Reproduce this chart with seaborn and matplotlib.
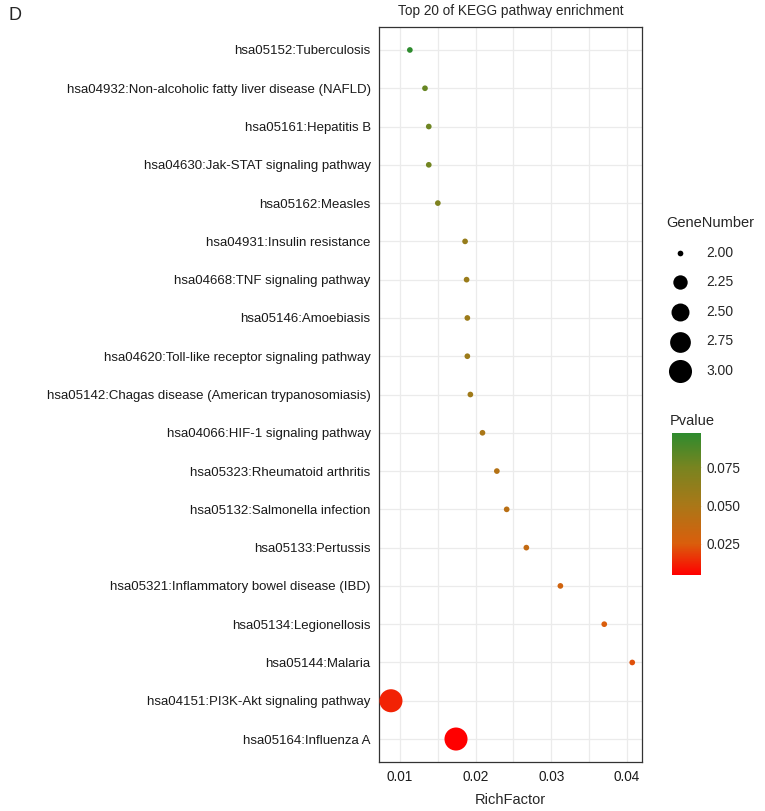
import numpy as np
import pandas as pd
import matplotlib
matplotlib.use("Agg")
import matplotlib.pyplot as plt
import seaborn as sns
from matplotlib.colors import LinearSegmentedColormap, Normalize
from matplotlib.cm import ScalarMappable

pathways = [
    "hsa05152:Tuberculosis",
    "hsa04932:Non-alcoholic fatty liver disease (NAFLD)",
    "hsa05161:Hepatitis B",
    "hsa04630:Jak-STAT signaling pathway",
    "hsa05162:Measles",
    "hsa04931:Insulin resistance",
    "hsa04668:TNF signaling pathway",
    "hsa05146:Amoebiasis",
    "hsa04620:Toll-like receptor signaling pathway",
    "hsa05142:Chagas disease (American trypanosomiasis)",
    "hsa04066:HIF-1 signaling pathway",
    "hsa05323:Rheumatoid arthritis",
    "hsa05132:Salmonella infection",
    "hsa05133:Pertussis",
    "hsa05321:Inflammatory bowel disease (IBD)",
    "hsa05134:Legionellosis",
    "hsa05144:Malaria",
    "hsa04151:PI3K-Akt signaling pathway",
    "hsa05164:Influenza A",
]
rich_factor = [0.0113, 0.0133, 0.0138, 0.0138, 0.0150, 0.0186, 0.0188, 0.0189,
               0.0189, 0.0193, 0.0209, 0.0228, 0.0241, 0.0267, 0.0312, 0.0370,
               0.0407, 0.0088, 0.0174]
pvalue = [0.0974, 0.080, 0.078, 0.077, 0.072, 0.060, 0.058, 0.057, 0.057,
          0.055, 0.050, 0.045, 0.042, 0.037, 0.030, 0.025, 0.022, 0.012, 0.0046]
gene_number = [2, 2, 2, 2, 2, 2, 2, 2, 2, 2, 2, 2, 2, 2, 2, 2, 2, 3, 3]

legend_sizes = [2.00, 2.25, 2.50, 2.75, 3.00]
cbar_ticks = [0.025, 0.050, 0.075]

df = pd.DataFrame({"Pathway": pathways, "RichFactor": rich_factor,
                   "Pvalue": pvalue, "GeneNumber": gene_number})

sns.set_style("white")
plt.rcParams["font.family"] = ["Liberation Sans", "DejaVu Sans"]

cmap = LinearSegmentedColormap.from_list(
    "pv", [(0.0, "#FF0000"), (0.22, "#DA5E0C"), (0.5, "#A87818"),
           (0.76, "#788420"), (1.0, "#2E8B2E")])
norm = Normalize(vmin=min(pvalue), vmax=max(pvalue))


def dot_size(g):
    # ggplot-like area scale: diameter grows with sqrt of rescaled value
    d_min, d_max = 4.1, 16.6
    d = d_min + (d_max - d_min) * np.sqrt((g - 2.0) / 1.0)
    return d ** 2


fig = plt.figure(figsize=(7.65, 8.11), dpi=100)
ax = fig.add_axes([379 / 765, 1 - 762 / 811, (642 - 379) / 765, (762 - 27) / 811])

sns.scatterplot(data=df, x="RichFactor", y="Pathway", hue="Pvalue",
                palette=cmap, hue_norm=norm, size="GeneNumber",
                sizes={2: dot_size(2), 3: dot_size(3)},
                linewidth=0, legend=False, ax=ax, zorder=3)

ax.set_xlim(0.00722, 0.04199)
ax.set_ylim(len(pathways) - 1 + 0.6, -0.6)
ax.set_xticks([0.01, 0.02, 0.03, 0.04])
ax.set_xticklabels(["0.01", "0.02", "0.03", "0.04"])
ax.set_xticks([0.015, 0.025, 0.035], minor=True)
ax.grid(True, which="both", color="#EBEBEB", linewidth=0.9, zorder=0)
ax.set_axisbelow(True)
for s in ax.spines.values():
    s.set_color("#333333")
    s.set_linewidth(0.9)
ax.tick_params(axis="both", which="major", length=3, width=0.8,
               color="#333333", labelsize=9.8, labelcolor="#1a1a1a", pad=3)
ax.tick_params(axis="y", which="major", labelsize=9.55)
ax.tick_params(axis="x", which="minor", length=0)
ax.set_xlabel("RichFactor", fontsize=10.5, labelpad=6)
ax.set_ylabel("")
ax.set_title("Top 20 of KEGG pathway enrichment", fontsize=9.8, pad=9)

fig.text(8 / 765, 1 - 15 / 811, "D", fontsize=13, va="center", ha="left")

# GeneNumber size legend
handles = [ax.scatter([], [], s=dot_size(v), color="black", linewidth=0)
           for v in legend_sizes]
leg = fig.legend(handles, ["%.2f" % v for v in legend_sizes], title="GeneNumber",
                 loc="upper left", bbox_to_anchor=(666 / 765, 1 - 216 / 811),
                 frameon=False, fontsize=10, title_fontsize=10.5,
                 labelspacing=1.12, handletextpad=0.9, borderaxespad=0,
                 borderpad=0)
leg._legend_box.align = "left"

# Pvalue colorbar
cax = fig.add_axes([672 / 765, 1 - 575 / 811, 29 / 765, 142 / 811])
cb = fig.colorbar(ScalarMappable(norm=norm, cmap=cmap), cax=cax, ticks=cbar_ticks)
cb.outline.set_visible(False)
cb.ax.set_yticklabels(["%.3f" % t for t in cbar_ticks])
cb.ax.tick_params(left=True, right=True, direction="in", length=5, width=0.8,
                  color="#f0e0c0", labelsize=9.8, pad=4)
fig.text(670 / 765, 1 - 421 / 811, "Pvalue", fontsize=10.5, va="center", ha="left")

fig.savefig("out.png", dpi=100)
